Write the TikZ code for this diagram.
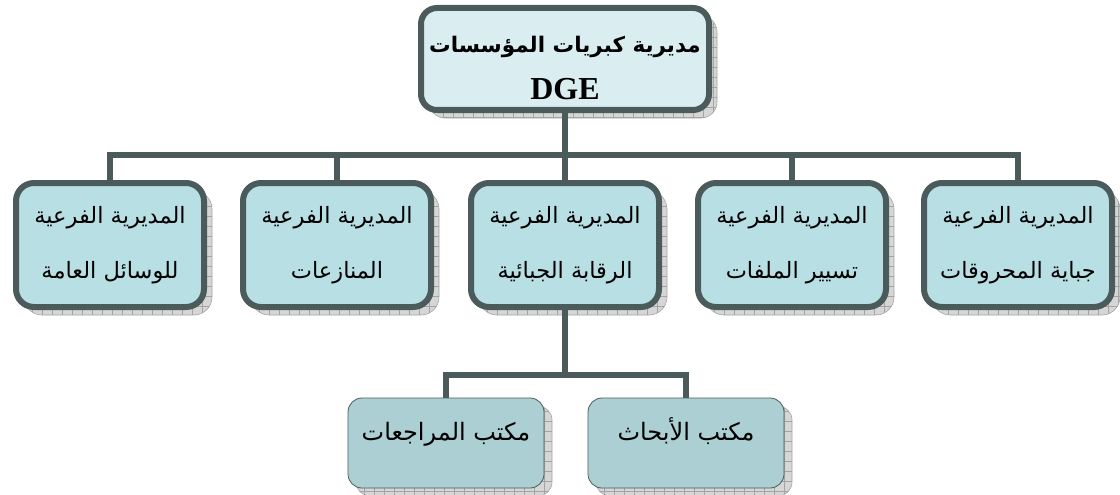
\documentclass[tikz,border=0pt]{standalone}
\usepackage{fontspec}
\usetikzlibrary{shadows}
\TeXXeTstate=1
\newfontfamily\arabicfont[Script=Arabic]{DejaVu Sans}
\newfontfamily\timesfont{Liberation Serif}
\definecolor{edge}{HTML}{4B5B5C}
\definecolor{topfill}{HTML}{DAEEF1}
\definecolor{midfill}{HTML}{B8DFE3}
\definecolor{lowfill}{HTML}{ABCFD2}
\definecolor{shfill}{HTML}{D6D6D6}
\definecolor{shgrid}{HTML}{A4A4A4}
\tikzset{
  gridshadow/.style={general shadow={shadow xshift=8pt, shadow yshift=-8pt, fill=shfill, draw=shgrid, line width=0.6pt,
      path picture={\draw[shgrid, line width=0.6pt, step=10pt]
        (path picture bounding box.south west) grid (path picture bounding box.north east);}}},
  topbox/.style={draw=edge, line width=6pt, fill=topfill, rounded corners=16pt,
      minimum width=288pt, minimum height=102pt, gridshadow, inner sep=0pt},
  toptext/.style={align=center, yshift=-9pt, inner sep=0pt},
  midbox/.style={draw=edge, line width=6pt, fill=midfill, rounded corners=18pt,
      minimum width=188pt, minimum height=124pt, gridshadow, align=center, inner sep=0pt,
      font=\arabicfont\fontsize{22.5}{55}\selectfont},
  lowbox/.style={draw=edge, line width=0.8pt, fill=lowfill, rounded corners=14pt,
      minimum width=196pt, minimum height=90pt, gridshadow, inner sep=0pt},
  lowtext/.style={font=\arabicfont\fontsize{24}{26}\selectfont, anchor=base, yshift=-43pt},
  conn/.style={draw=edge, line width=6pt}
}
\begin{document}
\begin{tikzpicture}[x=1pt,y=1pt]
\useasboundingbox (0,0) rectangle (1120,-495);
\node[topbox, label={[toptext]center:{{\arabicfont\bfseries\fontsize{21.5}{24}\selectfont\beginR مديرية كبريات المؤسسات\endR}\\[20pt]{\timesfont\bfseries\fontsize{32}{32}\selectfont DGE}}}] (top) at (565,-59) {};
\node[midbox] (b1) at (110,-245) {\beginR المديرية الفرعية\endR\\\beginR للوسائل العامة\endR};
\node[midbox] (b2) at (337,-245) {\beginR المديرية الفرعية\endR\\\beginR المنازعات\endR};
\node[midbox] (b3) at (565,-245) {\beginR المديرية الفرعية\endR\\\beginR الرقابة الجبائية\endR};
\node[midbox] (b4) at (792,-245) {\beginR المديرية الفرعية\endR\\\beginR تسيير الملفات\endR};
\node[midbox] (b5) at (1018,-245) {\beginR المديرية الفرعية\endR\\\beginR جباية المحروقات\endR};
\node[lowbox, label={[lowtext]north:{\beginR مكتب المراجعات\endR}}] (c1) at (446,-443) {};
\node[lowbox, label={[lowtext]north:{\beginR مكتب الأبحاث\endR}}] (c2) at (686,-443) {};
\coordinate (bus) at (565,-155);
\coordinate (bus2) at (565,-375);
\draw[conn] (top.south) -- (bus);
\draw[conn] (b1.north) |- (bus) -| (b5.north);
\draw[conn] (b2.north) -- (b2.north |- bus);
\draw[conn] (b3.north) -- (b3.north |- bus);
\draw[conn] (b4.north) -- (b4.north |- bus);
\draw[conn] (b3.south) -- (bus2);
\draw[conn] (c1.north) |- (bus2) -| (c2.north);
\end{tikzpicture}
\end{document}
